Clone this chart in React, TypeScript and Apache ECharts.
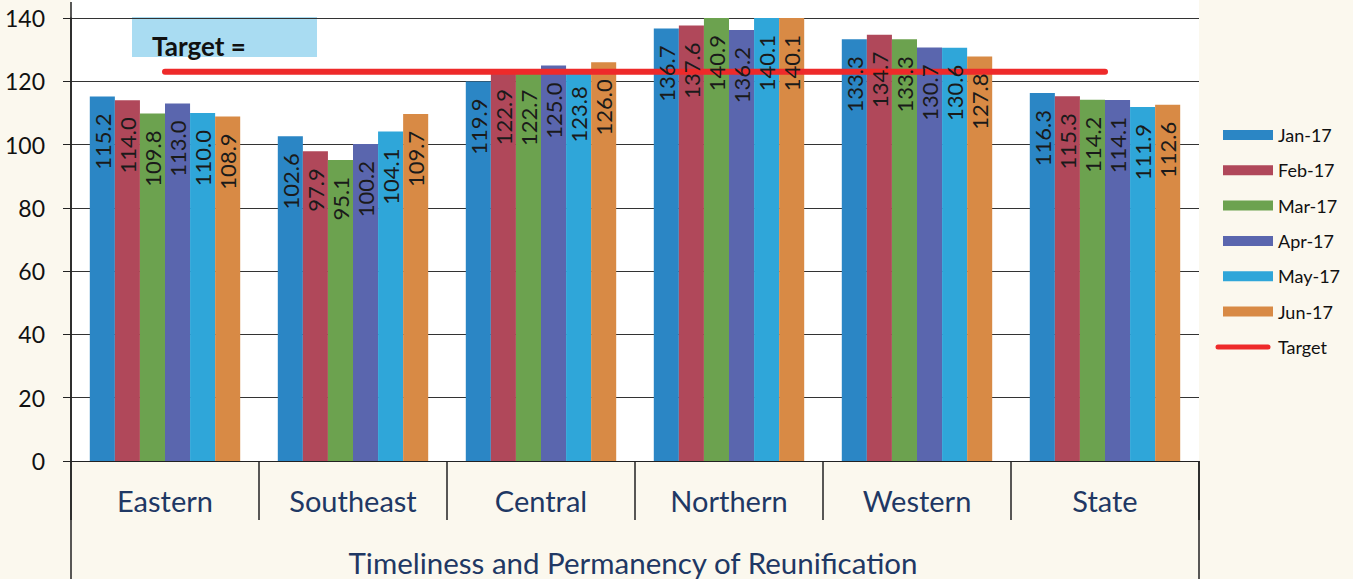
import React, { useEffect, useRef } from "react";
import * as echarts from "echarts";

const categories = ["Eastern", "Southeast", "Central", "Northern", "Western", "State"];
const months = ["Jan-17", "Feb-17", "Mar-17", "Apr-17", "May-17", "Jun-17"];
const jan17 = [115.2, 102.6, 119.9, 136.7, 133.3, 116.3];
const feb17 = [114.0, 97.9, 122.9, 137.6, 134.7, 115.3];
const mar17 = [109.8, 95.1, 122.7, 140.9, 133.3, 114.2];
const apr17 = [113.0, 100.2, 125.0, 136.2, 130.7, 114.1];
const may17 = [110.0, 104.1, 123.8, 140.1, 130.6, 111.9];
const jun17 = [108.9, 109.7, 126.0, 140.1, 127.8, 112.6];
const target = [123, 123, 123, 123, 123, 123];
const monthValues = [jan17, feb17, mar17, apr17, may17, jun17];
const monthColors = ["#2b86c5", "#b0485a", "#6ca24f", "#5a66ae", "#2fa6d9", "#d88a45"];
const axisTitle = "Timeliness and Permanency of Reunification";

const FONT = "Lato, 'Open Sans', sans-serif";
const RED = "#ee2a2a";

export default function App() {
  const ref = useRef<HTMLDivElement>(null);
  useEffect(() => {
    if (!ref.current) return;
    const chart = echarts.init(ref.current, null, { renderer: "svg" });
    const left = 71;
    const right = 1199;
    const top = 18;
    const bottomY = 461;
    const barSeries = months.map((m, i) => ({
      name: m,
      type: "bar",
      xAxisIndex: 0,
      data: monthValues[i],
      itemStyle: { color: monthColors[i] },
      barGap: "0%",
      barCategoryGap: "20%",
      z: 2,
    }));
    const labelSeries = months.map((m, i) => ({
      name: m + " label",
      type: "bar",
      xAxisIndex: 1,
      data: monthValues[i],
      itemStyle: { color: "rgba(0,0,0,0)" },
      barGap: "0%",
      barCategoryGap: "20%",
      z: 10,
      silent: true,
      label: {
        show: true,
        position: "insideTop",
        rotate: 90,
        align: "right",
        verticalAlign: "middle",
        distance: 17,
        fontFamily: FONT,
        fontSize: 22,
        color: "#1a1a1a",
        formatter: (p: any) => Number(p.value).toFixed(1),
      },
    }));
    chart.setOption({
      animation: false,
      backgroundColor: "#fbf8ee",
      textStyle: { fontFamily: FONT },
      grid: {
        left,
        right: 1353 - right,
        top,
        bottom: 579 - bottomY,
        show: true,
        backgroundColor: "#ffffff",
        borderWidth: 0,
      },
      legend: {
        orient: "vertical",
        left: 1218,
        top: 120,
        itemWidth: 50,
        itemHeight: 10,
        itemGap: 15.3,
        textStyle: { fontFamily: FONT, fontSize: 18, color: "#111", lineHeight: 20 },
        data: [
          ...months.map((m) => ({ name: m, icon: "rect" })),
          { name: "Target", icon: "none" },
        ],
      },
      xAxis: [
        {
          type: "category",
          data: categories,
          axisLine: { show: true, lineStyle: { color: "#222", width: 1 } },
          axisTick: { show: true, length: 59, lineStyle: { color: "#222", width: 1.5 } },
          axisLabel: {
            color: "#1f3864",
            fontFamily: FONT,
            fontSize: 29,
            margin: 25,
          },
        },
        {
          type: "category",
          data: categories,
          position: "bottom",
          show: false,
        },
      ],
      yAxis: {
        type: "value",
        min: 0,
        max: 140,
        interval: 20,
        axisLine: { show: true, lineStyle: { color: "#222", width: 1.5 } },
        axisTick: { show: true, length: 8, lineStyle: { color: "#222" } },
        axisLabel: { color: "#111", fontFamily: FONT, fontSize: 23, margin: 26 },
        splitLine: { show: true, lineStyle: { color: "#333", width: 1 } },
      },
      series: [
        ...barSeries,
        {
          name: "Target",
          type: "line",
          xAxisIndex: 0,
          data: target,
          symbol: "none",
          z: 5,
          lineStyle: { color: RED, width: 6, cap: "round" },
          itemStyle: { color: RED },
        },
        ...labelSeries,
      ],
      graphic: [
        {
          type: "rect",
          silent: true,
          z: -1,
          shape: { x: left, y: 0, width: right - left, height: top },
          style: { fill: "#ffffff" },
        },
        {
          type: "line",
          shape: { x1: left, y1: 2, x2: left, y2: 579 },
          style: { stroke: "#222", lineWidth: 1.5 },
        },
        {
          type: "line",
          shape: { x1: right, y1: bottomY, x2: right, y2: 579 },
          style: { stroke: "#222", lineWidth: 1.5 },
        },
        {
          type: "line",
          shape: { x1: 1218, y1: 347, x2: 1268, y2: 347 },
          style: { stroke: RED, lineWidth: 5, lineCap: "round" },
        },
        {
          type: "rect",
          shape: { x: 132, y: 17, width: 185, height: 40 },
          style: { fill: "#a9dcf2" },
        },
        {
          type: "text",
          x: 152,
          y: 46,
          style: {
            text: "Target =",
            fontFamily: FONT,
            fontSize: 26,
            fontWeight: "bold",
            fill: "#111",
            verticalAlign: "middle",
          },
        },
        {
          type: "text",
          x: 633,
          y: 562,
          style: {
            text: axisTitle,
            fontFamily: FONT,
            fontSize: 29.5,
            fill: "#1f3864",
            align: "center",
            verticalAlign: "middle",
          },
        },
      ],
    });
    return () => chart.dispose();
  }, []);
  return <div ref={ref} style={{ position: "fixed", left: 0, top: 0, width: 1353, height: 579 }} />;
}
